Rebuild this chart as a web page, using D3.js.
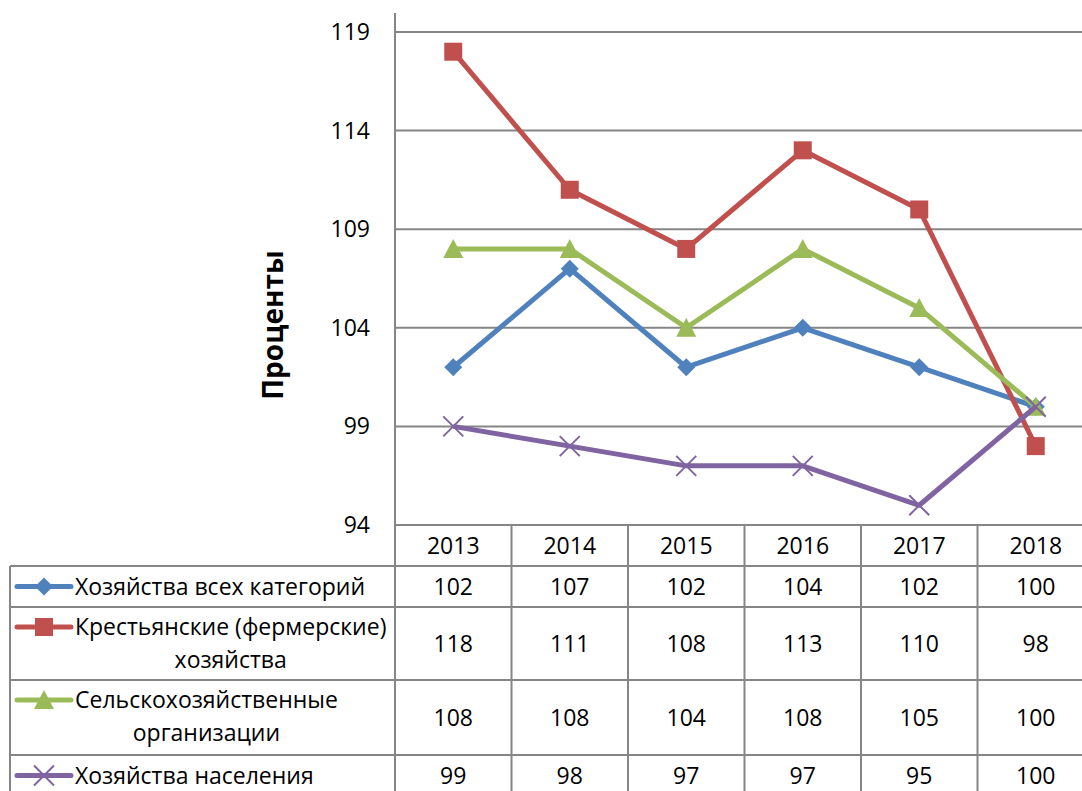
<!DOCTYPE html>
<html lang="ru">
<head>
<meta charset="UTF-8">
<script src="https://cdnjs.cloudflare.com/ajax/libs/d3/7.8.5/d3.min.js"></script>
<title>Индексы производства</title>
<style>
    body { margin: 0; background: #fff; }
    svg { display: block; font-family: 'Open Sans', Lato, sans-serif; }
    .grid line { stroke: #868686; stroke-width: 2px; }
    .tbl line { stroke: #868686; stroke-width: 2px; }
    .tick-lbl { font-size: 23px; fill: #000; }
    .cell-txt { font-size: 23px; fill: #000; }
</style>
</head>
<body>
<svg id="chart" width="1082" height="791"></svg>
<script>
const years = ['2013', '2014', '2015', '2016', '2017', '2018']
const seriesNames = [
    ['Хозяйства всех категорий'],
    ['Крестьянские (фермерские)', 'хозяйства'],
    ['Сельскохозяйственные', 'организации'],
    ['Хозяйства населения']
]
const allCats = [102, 107, 102, 104, 102, 100]
const farmers = [118, 111, 108, 113, 110, 98]
const agroOrgs = [108, 108, 104, 108, 105, 100]
const households = [99, 98, 97, 97, 95, 100]
const yTicks = [94, 99, 104, 109, 114, 119]
const colors = ['#4f81bd', '#c0504d', '#9bbb59', '#8064a2']
const symbols = ['diamond', 'square', 'triangle', 'cross']

const seriesValues = [allCats, farmers, agroOrgs, households]

const svg = d3.select('#chart')
const plotL = 395, plotR = 1094, plotT = 32, plotB = 525

const x = d3.scaleBand().domain(years).range([plotL, plotR])
const y = d3.scaleLinear().domain([94, 119]).range([plotB, plotT])

// gridlines
svg.append('g').attr('class', 'grid')
    .selectAll('line').data(yTicks).enter().append('line')
    .attr('x1', plotL).attr('x2', plotR)
    .attr('y1', d => y(d)).attr('y2', d => y(d))

// y axis line
svg.append('line')
    .attr('x1', plotL).attr('x2', plotL).attr('y1', 13).attr('y2', 791)
    .attr('stroke', '#868686').attr('stroke-width', 2)

svg.selectAll('.tick-lbl').data(yTicks).enter().append('text')
    .attr('class', 'tick-lbl')
    .attr('x', 370).attr('y', d => y(d))
    .attr('dy', '0.35em').attr('text-anchor', 'end')
    .text(d => d)

svg.append('text')
    .attr('transform', 'translate(283,325) rotate(-90)')
    .attr('text-anchor', 'middle')
    .attr('font-size', 28).attr('font-weight', 'bold')
    .text('Проценты')

// table
const rowTops = [525, 566, 607, 680, 755, 796]
const tbl = svg.append('g').attr('class', 'tbl')
// horizontal lines
rowTops.slice(1).forEach(ry => {
    tbl.append('line').attr('x1', 10).attr('x2', plotR).attr('y1', ry).attr('y2', ry)
})
// vertical lines
tbl.append('line').attr('x1', 10).attr('x2', 10).attr('y1', rowTops[1]).attr('y2', 791)
years.forEach(yr => {
    const cx = x(yr) + x.bandwidth()
    tbl.append('line').attr('x1', cx).attr('x2', cx).attr('y1', plotB).attr('y2', 791)
})

// header
svg.selectAll('.yr').data(years).enter().append('text')
    .attr('class', 'cell-txt')
    .attr('x', d => x(d) + x.bandwidth() / 2)
    .attr('y', (rowTops[0] + rowTops[1]) / 2)
    .attr('dy', '0.35em').attr('text-anchor', 'middle')
    .text(d => d)

function drawSymbol(g, kind, cx, cy, color) {
    if (kind === 'diamond') {
        g.append('path').attr('d', `M${cx},${cy - 9}L${cx + 9},${cy}L${cx},${cy + 9}L${cx - 9},${cy}Z`).attr('fill', color)
    } else if (kind === 'square') {
        g.append('rect').attr('x', cx - 9).attr('y', cy - 9).attr('width', 18).attr('height', 18).attr('fill', color)
    } else if (kind === 'triangle') {
        g.append('path').attr('d', `M${cx},${cy - 10}L${cx + 10},${cy + 9}L${cx - 10},${cy + 9}Z`).attr('fill', color)
    } else {
        g.append('path').attr('d', `M${cx - 10},${cy - 10}L${cx + 10},${cy + 10}M${cx - 10},${cy + 10}L${cx + 10},${cy - 10}`)
            .attr('stroke', color).attr('stroke-width', 2)
    }
}

const line = d3.line().x((d, i) => x(years[i]) + x.bandwidth() / 2).y(d => y(d))

seriesValues.forEach((vals, si) => {
    const g = svg.append('g')
    g.append('path').datum(vals)
        .attr('d', line).attr('fill', 'none')
        .attr('stroke', colors[si]).attr('stroke-width', 5).attr('stroke-linejoin', 'round')
    vals.forEach((v, i) => drawSymbol(g, symbols[si], x(years[i]) + x.bandwidth() / 2, y(v), colors[si]))

    // table row
    const r0 = rowTops[si + 1], r1 = rowTops[si + 2]
    const rc = (r0 + r1) / 2
    vals.forEach((v, i) => {
        svg.append('text').attr('class', 'cell-txt')
            .attr('x', x(years[i]) + x.bandwidth() / 2).attr('y', rc)
            .attr('dy', '0.35em').attr('text-anchor', 'middle')
            .text(v)
    })

    // legend key + name
    const names = seriesNames[si]
    const ly = names.length > 1 ? r0 + 20 : rc
    svg.append('line').attr('x1', 17).attr('x2', 71).attr('y1', ly).attr('y2', ly)
        .attr('stroke', colors[si]).attr('stroke-width', 5).attr('stroke-linecap', 'round')
    drawSymbol(svg.append('g'), symbols[si], 44, ly, colors[si])
    const t1 = svg.append('text').attr('class', 'cell-txt')
        .attr('x', 75).attr('y', ly).attr('dy', '0.35em').text(names[0])
    if (names.length > 1) {
        const w = t1.node().getComputedTextLength()
        svg.append('text').attr('class', 'cell-txt')
            .attr('x', 75 + w / 2).attr('y', ly + 33).attr('dy', '0.35em')
            .attr('text-anchor', 'middle').text(names[1])
    }
})
</script>
</body>
</html>
